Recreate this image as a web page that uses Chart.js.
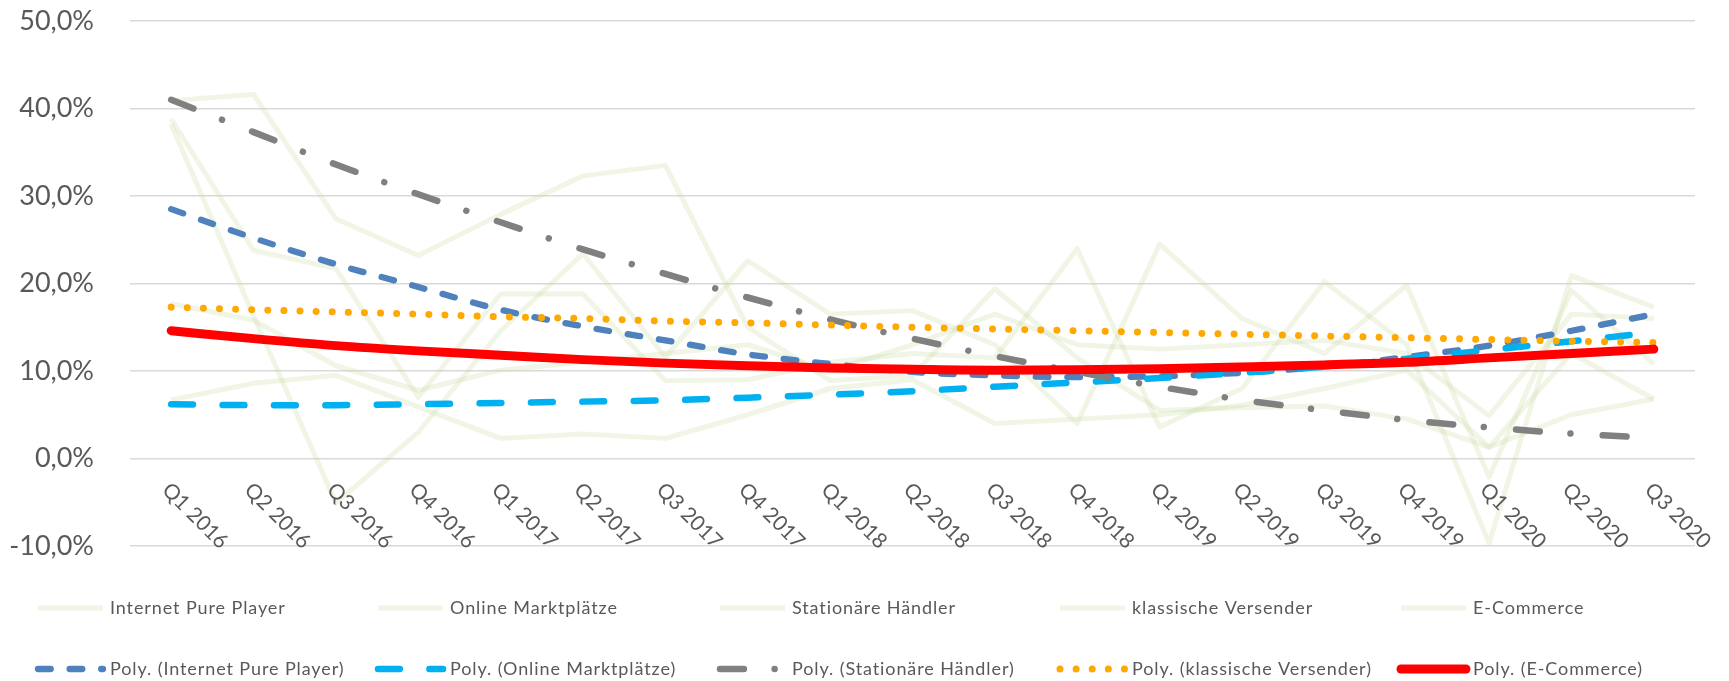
<!DOCTYPE html>
<html>
<head>
<meta charset="utf-8">
<script src="https://cdn.jsdelivr.net/npm/chart.js@4.4.0/dist/chart.umd.min.js"></script>
<style>
html, body { margin: 0; padding: 0; background: #fff; }
canvas { display: block; }
</style>
</head>
<body>
<canvas id="wachstumChart" width="1729" height="681"></canvas>
<script>
// Kategorien
const quartale = ['Q1 2016', 'Q2 2016', 'Q3 2016', 'Q4 2016', 'Q1 2017', 'Q2 2017', 'Q3 2017', 'Q4 2017',
    'Q1 2018', 'Q2 2018', 'Q3 2018', 'Q4 2018', 'Q1 2019', 'Q2 2019', 'Q3 2019', 'Q4 2019',
    'Q1 2020', 'Q2 2020', 'Q3 2020'];

// Wachstum gegenüber Vorjahr in % (blasse Linien)
const internetPurePlayer = [38.8, 23.8, 21.7, 7.0, 18.8, 18.8, 8.9, 9.0, 11.0, 12.0, 11.5, 24.0, 3.6, 8.0, 20.2, 13.0, -9.7, 20.9, 17.3];
const onlineMarktplaetze = [6.7, 8.6, 9.5, 5.9, 2.3, 2.8, 2.3, 5.0, 8.0, 9.0, 4.0, 4.5, 5.0, 6.1, 8.0, 10.1, 1.3, 12.0, 6.8];
const stationaereHaendler = [40.9, 41.6, 27.4, 23.2, 27.9, 32.3, 33.5, 15.0, 8.9, 9.5, 19.4, 11.5, 5.5, 5.8, 6.0, 4.5, 1.3, 5.0, 6.8];
const klassischeVersender = [17.7, 15.8, 10.6, 7.8, 10.1, 11.0, 12.0, 13.0, 10.0, 13.0, 16.5, 13.0, 12.5, 13.0, 13.5, 12.0, 4.9, 16.5, 16.0];
const eCommerce = [38.2, 16.3, -5.1, 3.0, 14.6, 23.4, 11.6, 22.6, 16.5, 16.9, 13.0, 4.0, 24.5, 16.0, 12.0, 19.8, -2.1, 19.2, 10.8];

// Polynomische Trendlinien
const polyInternetPurePlayer = [28.5, 25.2, 22.2, 19.6, 17.0, 15.1, 13.5, 11.9, 10.8, 9.9, 9.5, 9.3, 9.4, 9.8, 10.5, 11.6, 12.9, 14.6, 16.5];
const polyOnlineMarktplaetze = [6.2, 6.1, 6.1, 6.2, 6.35, 6.5, 6.65, 6.95, 7.3, 7.7, 8.2, 8.7, 9.2, 9.8, 10.5, 11.4, 12.4, 13.4, 14.4];
const polyStationaereHaendler = [41.0, 37.3, 33.6, 30.2, 27.0, 23.9, 21.1, 18.4, 15.9, 13.7, 11.7, 9.9, 8.2, 6.7, 5.5, 4.4, 3.55, 2.85, 2.35];
const polyKlassischeVersender = [17.3, 17.0, 16.75, 16.5, 16.2, 16.0, 15.7, 15.5, 15.25, 15.0, 14.8, 14.6, 14.4, 14.2, 14.0, 13.8, 13.6, 13.4, 13.25];
const polyECommerce = [14.6, 13.7, 12.9, 12.3, 11.8, 11.3, 10.9, 10.6, 10.35, 10.2, 10.1, 10.15, 10.25, 10.45, 10.7, 11.0, 11.5, 12.0, 12.5];

// y-Achse
const yTicks = [-10, 0, 10, 20, 30, 40, 50];

const blass = 'rgba(196, 215, 155, 0.26)';
const textFarbe = '#595959';

function rohSerie(label, werte) {
    return {
        label: label,
        data: werte,
        borderColor: blass,
        borderWidth: 5,
        tension: 0,
        pointRadius: 0,
        borderJoinStyle: 'round',
        order: 10
    };
}

function polySerie(label, werte, farbe, breite, dash, order) {
    return {
        label: label,
        data: werte,
        borderColor: farbe,
        borderWidth: breite,
        borderDash: dash,
        borderCapStyle: 'round',
        borderJoinStyle: 'round',
        cubicInterpolationMode: 'monotone',
        pointRadius: 0,
        order: order
    };
}

const datasets = [
    rohSerie('Internet Pure Player', internetPurePlayer),
    rohSerie('Online Marktplätze', onlineMarktplaetze),
    rohSerie('Stationäre Händler', stationaereHaendler),
    rohSerie('klassische Versender', klassischeVersender),
    rohSerie('E-Commerce', eCommerce),
    polySerie('Poly. (Internet Pure Player)', polyInternetPurePlayer, '#4F81BD', 6.3, [12.7, 18.9], 5),
    polySerie('Poly. (Online Marktplätze)', polyOnlineMarktplaetze, '#00B0F0', 6.5, [21.8, 29.6], 4),
    polySerie('Poly. (Stationäre Händler)', polyStationaereHaendler, '#808080', 6.5, [23.9, 30.7, 0.01, 32.3], 3),
    polySerie('Poly. (klassische Versender)', polyKlassischeVersender, '#FFA800', 7, [0.01, 16.1], 2),
    polySerie('Poly. (E-Commerce)', polyECommerce, '#FF0000', 9, [], 1)
];

// Beschriftung der Quartale (schräg nach unten) und Legende in zwei Reihen
const beschriftung = {
    id: 'beschriftung',
    afterDraw(chart) {
        const ctx = chart.ctx;
        const xScale = chart.scales.x;
        ctx.save();
        ctx.fillStyle = textFarbe;
        ctx.font = '21px Lato';
        ctx.textAlign = 'left';
        ctx.textBaseline = 'top';
        quartale.forEach((q, i) => {
            const x = xScale.getPixelForValue(i);
            ctx.save();
            ctx.translate(x + 2, 479);
            ctx.rotate(Math.PI / 4);
            ctx.fillText(q, 0, 0);
            ctx.restore();
        });

        const spalten = [35, 375, 717, 1057, 1398];
        const reihen = [608, 669];
        ctx.font = '18px Lato';
        ctx.letterSpacing = '0.9px';
        ctx.textBaseline = 'middle';
        chart.data.datasets.forEach((ds, i) => {
            const x = spalten[i % 5];
            const y = reihen[Math.floor(i / 5)];
            ctx.save();
            ctx.strokeStyle = ds.borderColor;
            ctx.lineWidth = ds.borderWidth;
            ctx.lineCap = i < 5 ? 'butt' : 'round';
            ctx.setLineDash(ds.borderDash || []);
            ctx.beginPath();
            ctx.moveTo(x + 3, y);
            ctx.lineTo(x + 68, y);
            ctx.stroke();
            ctx.restore();
            ctx.fillText(ds.label, x + 75, y);
        });
        ctx.restore();
    }
};

document.fonts.load('20px Lato').then(() => {
    new Chart(document.getElementById('wachstumChart'), {
        type: 'line',
        data: {
            labels: quartale,
            datasets: datasets
        },
        options: {
            responsive: false,
            animation: false,
            devicePixelRatio: 1,
            layout: {
                padding: { top: 21, right: 34, left: 0, bottom: 0 }
            },
            plugins: {
                legend: { display: false },
                tooltip: { enabled: false }
            },
            scales: {
                x: {
                    offset: true,
                    grid: { display: false },
                    border: { display: false },
                    ticks: { display: false },
                    afterFit: (scale) => { scale.height = 135; }
                },
                y: {
                    min: yTicks[0],
                    max: yTicks[yTicks.length - 1],
                    afterBuildTicks: (scale) => {
                        scale.ticks = yTicks.map(v => ({ value: v }));
                    },
                    grid: {
                        color: '#D9D9D9',
                        lineWidth: 1.5,
                        drawTicks: true,
                        tickLength: 36,
                        tickColor: 'rgba(0,0,0,0)'
                    },
                    border: { display: false },
                    ticks: {
                        padding: 0,
                        color: textFarbe,
                        font: { family: 'Lato', size: 27 },
                        callback: (v) => v.toFixed(1).replace('.', ',') + '%'
                    },
                    afterFit: (scale) => { scale.width = 130; }
                }
            }
        },
        plugins: [beschriftung]
    });
});
</script>
</body>
</html>
